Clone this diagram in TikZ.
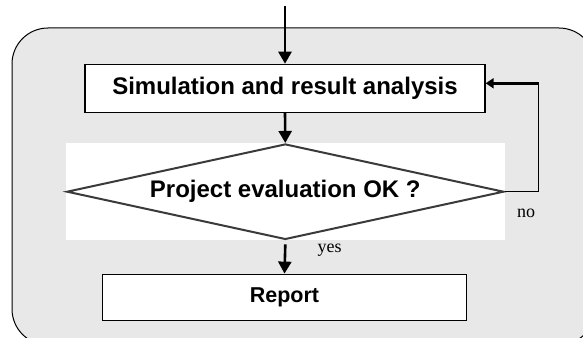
\documentclass[tikz,border=0pt]{standalone}
\usepackage{fontspec}
\setmainfont{Liberation Serif}
\newfontfamily\arialbold{Liberation Sans}[BoldFont={Liberation Sans Bold}]
\usetikzlibrary{shapes.geometric,arrows.meta,backgrounds}

\definecolor{panelgray}{HTML}{E8E8E8}
\definecolor{diamondline}{HTML}{3A3A3A}

\tikzset{
  stepbox/.style={draw=black, line width=1.4pt, fill=white, inner sep=0pt},
  boxtext/.style={font=\arialbold\bfseries\fontsize{24}{28}\selectfont},
  decision/.style={diamond, draw=diamondline, line width=2pt, inner sep=0pt},
  flow/.style={line width=2.6pt, -{Triangle[length=12pt,width=13pt]}},
  backflow/.style={line width=1.4pt},
  edgelabel/.style={font=\fontsize{18}{20}\selectfont, inner sep=0pt}
}

\begin{document}
\begin{tikzpicture}[x=1pt, y=-1pt]
  \useasboundingbox (0,0) rectangle (583,337);
  \clip (0,0) rectangle (583,337);

  % process steps
  \node[stepbox, boxtext, minimum width=400pt, minimum height=48pt] (sim) at (285,88.4)
    {Simulation and result analysis};
  \node[decision, boxtext, minimum width=437pt, minimum height=95.5pt, aspect=4.58] (eval) at (285.3,191.7)
    {Project evaluation OK ?};
  \node[stepbox, boxtext, font=\arialbold\bfseries\fontsize{21.5}{25}\selectfont,
        minimum width=364pt, minimum height=46.4pt] (report) at (284.5,297.5) {Report};

  % rounded panel and the white backing of the decision
  \begin{scope}[on background layer]
    \draw[line width=1pt, fill=panelgray, rounded corners=36pt] (12,28) rectangle (595,345);
    \fill[white] (eval.west |- eval.north) rectangle (eval.east |- eval.south);
  \end{scope}

  % entry point and feedback corner
  \coordinate (entry) at (285,6);
  \coordinate (loop) at (538.7,83.3);

  % connectors
  \draw[flow] (entry) -- (sim.north);
  \draw[flow] (sim.south) -- (eval.north);
  \draw[flow] (eval.south) ++(0,4) -- (report.north);
  \draw[backflow] (eval.east) -| (loop);
  \draw[line width=2.6pt, -{Triangle[length=8pt,width=10pt]}] (loop) -- (sim.east |- loop);

  % branch labels
  \node[edgelabel] (nolabel) at (526,213) {no};
  \node[edgelabel] (yeslabel) at (329.5,250) {yes};
\end{tikzpicture}
\end{document}
